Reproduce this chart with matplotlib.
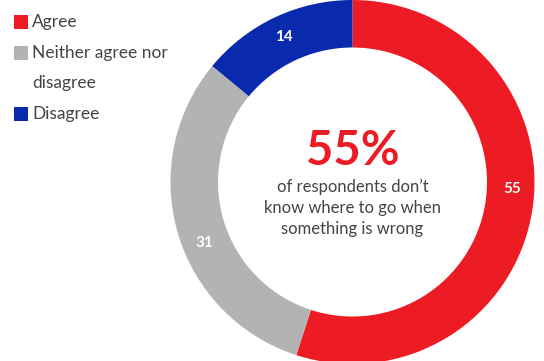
import numpy as np
import matplotlib.pyplot as plt
from matplotlib.patches import Rectangle

categories = ["Agree", "Neither agree nor\ndisagree", "Disagree"]
values = [55, 31, 14]
colors = ["#ED1C24", "#B3B3B3", "#0A2AAE"]
headline = "55%"
caption = "of respondents don\u2019t\nknow where to go when\nsomething is wrong"


def main():
    plt.rcParams["font.family"] = ["Lato", "DejaVu Sans"]
    fig = plt.figure(figsize=(5.44, 3.61), dpi=100)
    ax = fig.add_axes([0, 0, 1, 1])

    cx, cy, r_out, ring = 352.5, 179, 182, 47.5
    wedges, _ = ax.pie(
        values, colors=colors, startangle=90, counterclock=False,
        center=(cx, cy), radius=r_out, frame=True,
        wedgeprops=dict(width=ring, edgecolor="none", linewidth=0),
    )
    ax.set_xlim(0, 544)
    ax.set_ylim(0, 361)
    ax.set_aspect("equal")
    ax.axis("off")

    # value labels inside the ring, nudged a little along the arc
    nudges = [6.5, 6, 0]
    for w, v, dn in zip(wedges, values, nudges):
        ang = np.deg2rad((w.theta1 + w.theta2) / 2 + dn)
        rr = r_out - ring / 2 + 2
        ax.text(cx + rr * np.cos(ang), cy + rr * np.sin(ang), str(v),
                ha="center", va="center", color="white", fontsize=11,
                fontweight="bold")

    # centre text
    ax.text(cx, 210, headline, ha="center", va="center", color="#ED1C24",
            fontsize=34, fontweight="bold")
    ax.text(cx, 153, caption, ha="center", va="center", color="#444444",
            fontsize=12, linespacing=1.4)

    # legend drawn by hand so the square sits on the first line
    ys = [339, 308, 247]
    for lab, col, y in zip(categories, colors, ys):
        ax.add_patch(Rectangle((14, y - 7), 14, 14, color=col, lw=0))
        ax.text(32, y + 8, lab, ha="left", va="top", color="#444444",
                fontsize=12.5, linespacing=2.1)

    fig.savefig("out.png", dpi=100)


if __name__ == "__main__":
    main()
